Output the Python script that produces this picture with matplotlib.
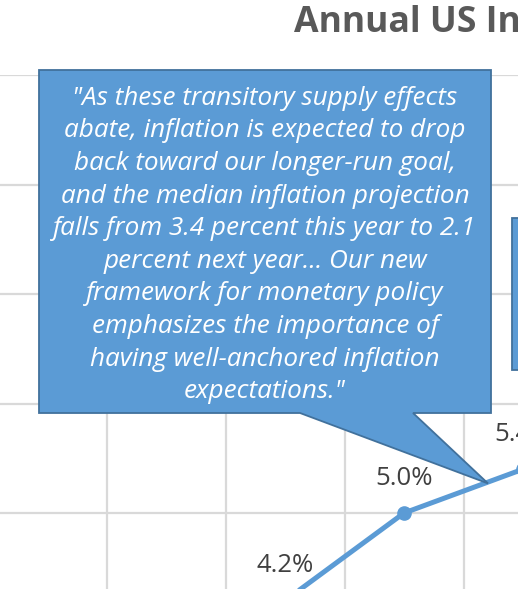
import matplotlib
matplotlib.use('Agg')
import matplotlib.pyplot as plt
from matplotlib.patches import Polygon, Rectangle

"""
  Monthly CPI values shown in the visible part of the chart
"""
months = ['Apr 2021', 'May 2021', 'Jun 2021']
cpi = [4.2, 5.0, 5.4]
labels = ['4.2%', '5.0%', '5.4%']

title = 'Annual US Inflation'
quote = ('"As these transitory supply effects\n'
         'abate, inflation is expected to drop\n'
         'back toward our longer-run goal,\n'
         'and the median inflation projection\n'
         'falls from 3.4 percent this year to 2.1\n'
         'percent next year... Our new\n'
         'framework for monetary policy\n'
         'emphasizes the importance of\n'
         'having well-anchored inflation\n'
         'expectations."')

W, H = 518, 589
blue = '#5B9BD5'
edge = '#41719C'
grid = '#D9D9D9'

fig = plt.figure(figsize=(W / 100, H / 100), dpi=100)

"""
  The plot area reaches past the picture edges (the picture is a crop)
"""
xmin, xmax = -3.5, 3.5
ymin, ymax = 0, 9
px_x, px_y = 119.0, 109.5
left = 285 - px_x * (0 - xmin)
top = 75
ax = fig.add_axes([left / W, (H - top - px_y * (ymax - ymin)) / H,
                   px_x * (xmax - xmin) / W, px_y * (ymax - ymin) / H])
ax.set_xlim(xmin, xmax)
ax.set_ylim(ymin, ymax)
for s in ax.spines.values():
    s.set_visible(False)
ax.set_yticks(range(ymin, ymax + 1))
ax.set_xticks([i + 0.5 for i in range(-4, 4)])
ax.tick_params(length=0, labelbottom=False, labelleft=False)
ax.grid(True, color=grid, linewidth=1.6)
ax.set_axisbelow(True)

x = list(range(len(months)))
ax.plot(x, cpi, color=blue, linewidth=3.6, marker='o', markersize=9.5,
        solid_capstyle='round', clip_on=False, zorder=3)
for xi, yi, lab in zip(x, cpi, labels):
    ax.annotate(lab, (xi, yi), xytext=(0, 25), textcoords='offset points',
                ha='center', va='center', fontsize=18.5, color='#404040',
                family='Open Sans', annotation_clip=False)

fig.text(294 / W, 1 - 32 / H, title, ha='left', va='baseline',
         fontsize=25.7, fontweight='bold', color='#595959', family='Open Sans')

"""
  Callout box with its pointer, tip sits on the line
"""
tip_x, tip_y = 1.706, 5.27
tx, ty = ax.transData.transform((tip_x, tip_y))
box = [(39, 70), (491, 70), (491, 413), (413, 413), None, (300, 413), (39, 413)]
verts = []
for v in box:
    if v is None:
        verts.append((tx / W, ty / H))
    else:
        verts.append((v[0] / W, 1 - v[1] / H))
fig.patches.append(Polygon(verts, closed=True, transform=fig.transFigure,
                           facecolor=blue, edgecolor=edge, linewidth=1.3,
                           zorder=5))
fig.text(265 / W, 1 - 245 / H, quote, ha='center', va='center',
         fontsize=18.8, style='italic', color='white', family='Open Sans',
         linespacing=1.40, zorder=6)

# second callout, mostly out of the picture
fig.patches.append(Rectangle((512 / W, 1 - 370 / H), 60 / W, 152 / H,
                             transform=fig.transFigure, facecolor=blue,
                             edgecolor=edge, linewidth=1.3, zorder=5))

fig.savefig('out.png', dpi=100)
